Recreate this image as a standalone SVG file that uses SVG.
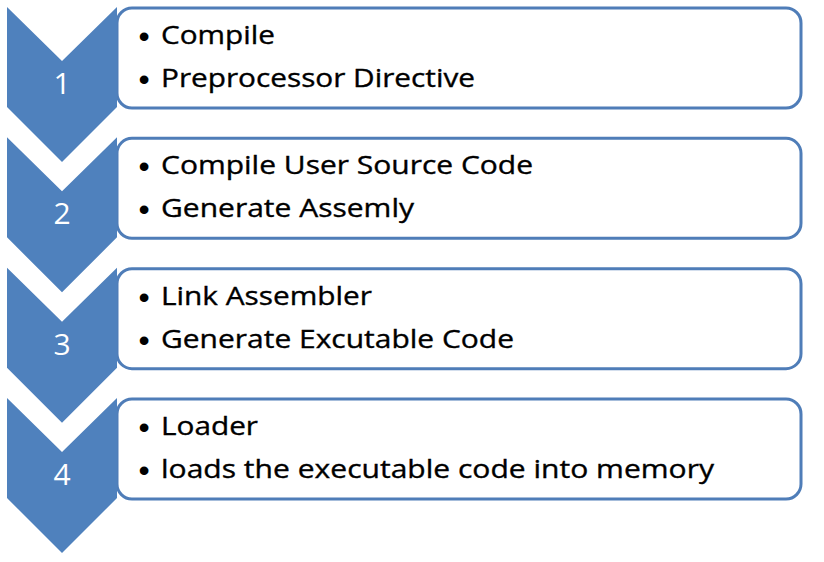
<svg xmlns="http://www.w3.org/2000/svg" width="824" height="562" viewBox="0 0 824 562">
<defs>
<style>
.box{fill:#ffffff;stroke:#4F7DB8;stroke-width:3}
.chev{fill:#4F81BD}
.num{font-family:"Open Sans","Liberation Sans",sans-serif;font-size:30px;fill:#ffffff;text-anchor:middle}
.txt{font-family:"Open Sans","Liberation Sans",sans-serif;font-size:25.5px;fill:#000000;stroke:#000000;stroke-width:0.35}
.bul{font-family:"Liberation Sans",sans-serif;font-size:32px;fill:#000000;text-anchor:middle}
</style>
<polygon id="chevShape" class="chev" points="7,0 62,54 117,0 117,100 62,155 7,100"/>
</defs>
<rect width="824" height="562" fill="#ffffff"/>
<g id="connectors"></g>
<g id="step1">
<rect class="box" x="117" y="8" width="684" height="100" rx="15"/>
<use href="#chevShape" y="7"/>
<text class="num" x="62" y="94">1</text>
<text class="bul" x="144" y="47">•</text><text class="txt" x="161" y="44" textLength="114" lengthAdjust="spacingAndGlyphs">Compile</text>
<text class="bul" x="144" y="90">•</text><text class="txt" x="161" y="87" textLength="314" lengthAdjust="spacingAndGlyphs">Preprocessor Directive</text>
</g>
<g id="step2">
<rect class="box" x="117" y="138.3" width="684" height="100" rx="15"/>
<use href="#chevShape" y="137.3"/>
<text class="num" x="62" y="224.3">2</text>
<text class="bul" x="144" y="177.3">•</text><text class="txt" x="161" y="174.3" textLength="372" lengthAdjust="spacingAndGlyphs">Compile User Source Code</text>
<text class="bul" x="144" y="220.3">•</text><text class="txt" x="161" y="217.3" textLength="253" lengthAdjust="spacingAndGlyphs">Generate Assemly</text>
</g>
<g id="step3">
<rect class="box" x="117" y="268.7" width="684" height="100" rx="15"/>
<use href="#chevShape" y="267.7"/>
<text class="num" x="62" y="354.7">3</text>
<text class="bul" x="144" y="307.7">•</text><text class="txt" x="161" y="304.7" textLength="211" lengthAdjust="spacingAndGlyphs">Link Assembler</text>
<text class="bul" x="144" y="350.7">•</text><text class="txt" x="161" y="347.7" textLength="353" lengthAdjust="spacingAndGlyphs">Generate Excutable Code</text>
</g>
<g id="step4">
<rect class="box" x="117" y="399" width="684" height="100" rx="15"/>
<use href="#chevShape" y="398"/>
<text class="num" x="62" y="485">4</text>
<text class="bul" x="144" y="438">•</text><text class="txt" x="161" y="435" textLength="97" lengthAdjust="spacingAndGlyphs">Loader</text>
<text class="bul" x="144" y="481">•</text><text class="txt" x="161" y="478" textLength="553" lengthAdjust="spacingAndGlyphs">loads the executable code into memory</text>
</g>
</svg>
